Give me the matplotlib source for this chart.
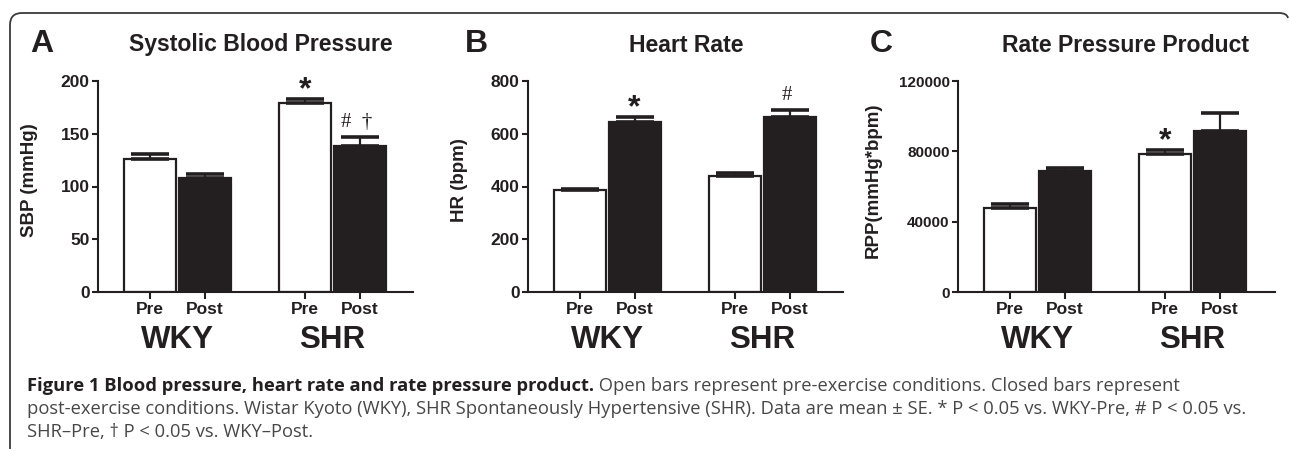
import matplotlib
matplotlib.use("Agg")
import matplotlib.pyplot as plt
from matplotlib.path import Path
from matplotlib.patches import PathPatch

# ---------------- data ----------------
conditions = ["Pre", "Post"]
groups = ["WKY", "SHR"]

sbp_mean = [126, 108, 179, 138]
sbp_err = [5, 4, 4, 9]

hr_mean = [385, 645, 440, 662]
hr_err = [7, 18, 10, 28]

rpp_mean = [48000, 69000, 78500, 91500]
rpp_err = [1800, 1500, 2000, 10500]

panel_letters = ["A", "B", "C"]
titles = ["Systolic Blood Pressure", "Heart Rate", "Rate Pressure Product"]
ylabels = ["SBP (mmHg)", "HR (bpm)", "RPP(mmHg*bpm)"]
yticks = [[0, 50, 100, 150, 200], [0, 200, 400, 600, 800], [0, 40000, 80000, 120000]]
ylims = [200, 800, 120000]

# significance marks: (bar index, text, serif?)
marks = [
    [(2, "*", False), (3, "#  \u2020", True)],
    [(1, "*", False), (3, "#", True)],
    [(2, "*", False)],
]

caption_bold = "Figure 1 Blood pressure, heart rate and rate pressure product."
caption_rest1 = " Open bars represent pre-exercise conditions. Closed bars represent"
caption_line2 = ("post-exercise conditions. Wistar Kyoto (WKY), SHR Spontaneously Hypertensive (SHR). "
                 "Data are mean \u00b1 SE. * P < 0.05 vs. WKY-Pre, # P < 0.05 vs.")
caption_line3 = "SHR\u2013Pre, \u2020 P < 0.05 vs. WKY\u2013Post."

# ---------------- layout ----------------
W, H = 1290, 451
DPI = 100
INK = "#231f20"
fig = plt.figure(figsize=(W / DPI, H / DPI), dpi=DPI)

# overlay for frame
ov = fig.add_axes([0, 0, 1, 1], zorder=-5)
ov.set_xlim(0, W)
ov.set_ylim(H, 0)
ov.axis("off")
verts = [(10, 449), (10, 25), (10, 13), (22, 13), (1279, 13), (1287, 13), (1288, 18)]
codes = [Path.MOVETO, Path.LINETO, Path.CURVE3, Path.CURVE3, Path.LINETO, Path.CURVE3, Path.CURVE3]
ov.add_patch(PathPatch(Path(verts, codes), fill=False, edgecolor="#3a3a3a", lw=1.3))

axes_px = [(98, 81, 413, 292), (528, 81, 843, 292), (958, 81, 1275, 292)]
group_centers = [79, 234.5]
half_gap = 27.5
bar_w = 52
xpos = [group_centers[0] - half_gap, group_centers[0] + half_gap,
        group_centers[1] - half_gap, group_centers[1] + half_gap]

all_means = [sbp_mean, hr_mean, rpp_mean]
all_errs = [sbp_err, hr_err, rpp_err]
title_x = [261, 686, 1125]
letter_x = [30, 465, 870]
ylabel_x = [38, 468, 882]
tick_fs = [12.5, 12.5, 11]

plt.rcParams["font.family"] = ["Liberation Sans", "DejaVu Sans"]

for i in range(3):
    l, t, r, b = axes_px[i]
    ax = fig.add_axes([l / W, 1 - b / H, (r - l) / W, (b - t) / H])
    means, errs = all_means[i], all_errs[i]
    colors = ["white", INK, "white", INK]
    ax.bar(xpos, means, width=bar_w, color=colors, edgecolor=INK, linewidth=1.6, zorder=2)
    ax.errorbar(xpos, means, yerr=[[0] * 4, errs], fmt="none", ecolor=INK,
                elinewidth=1.6, capsize=14, capthick=2.6, zorder=3)
    ax.set_xlim(0, r - l)
    ax.set_ylim(0, ylims[i])
    ax.set_yticks(yticks[i])
    ax.set_yticklabels([str(v) for v in yticks[i]], fontsize=tick_fs[i], fontweight="bold", color=INK)
    ax.set_xticks(xpos)
    ax.set_xticklabels(conditions * 2, fontsize=12.5, fontweight="bold", color=INK)
    for s in ["top", "right"]:
        ax.spines[s].set_visible(False)
    for s in ["left", "bottom"]:
        ax.spines[s].set_linewidth(1.5)
        ax.spines[s].set_color(INK)
    ax.tick_params(axis="y", length=4, width=1.5, color=INK, pad=2)
    ax.tick_params(axis="x", length=5, width=1.5, color=INK, pad=2)
    ax.spines["bottom"].set_zorder(4)

    ax.set_ylabel(ylabels[i], fontsize=13.5, fontweight="bold", color=INK)
    ax.yaxis.set_label_coords((ylabel_x[i] - l) / (r - l), 0.5 + (186.5 - 180) / (b - t))

    # group labels
    for g, gc in enumerate(group_centers):
        fig.text((l + gc) / W, 1 - 340 / H, groups[g], fontsize=22.5, fontweight="bold",
                 color=INK, ha="center", va="center")
    fig.text(title_x[i] / W, 1 - 45 / H, titles[i], fontsize=16.6, fontweight="bold",
             color=INK, ha="center", va="center")
    fig.text(letter_x[i] / W, 1 - 44 / H, panel_letters[i], fontsize=23, fontweight="bold",
             color=INK, ha="left", va="center")

    for (bi, txt, serif) in marks[i]:
        top = means[bi] + errs[bi]
        if serif:
            ax.annotate(txt, xy=(xpos[bi], top), xytext=(-2.5, 7.0), textcoords="offset points",
                        ha="center", va="baseline", fontsize=15, color=INK,
                        family=["Liberation Serif", "DejaVu Serif"])
        else:
            ax.annotate(txt, xy=(xpos[bi], top), xytext=(0, 0.8), textcoords="offset points",
                        ha="center", va="baseline", fontsize=23, fontweight="bold", color=INK)

# ---------------- caption ----------------
cap_font = ["Open Sans", "DejaVu Sans"]
cap_size = 13.2
GREY = "#474747"
x0 = 27 / W
t1 = fig.text(x0, 1 - 391 / H, caption_bold, fontsize=cap_size, fontweight="bold",
              family=cap_font, color=INK, ha="left", va="baseline")
fig.canvas.draw()
bb = t1.get_window_extent()
fig.text(bb.x1 / W, 1 - 391 / H, caption_rest1, fontsize=cap_size, family=cap_font,
         color=GREY, ha="left", va="baseline")
fig.text(x0, 1 - 414 / H, caption_line2, fontsize=cap_size, family=cap_font,
         color=GREY, ha="left", va="baseline")
fig.text(x0, 1 - 437 / H, caption_line3, fontsize=cap_size, family=cap_font,
         color=GREY, ha="left", va="baseline")

fig.savefig("out.png", dpi=DPI)
